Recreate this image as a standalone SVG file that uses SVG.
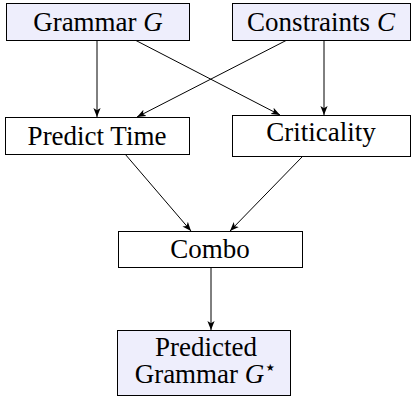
<svg xmlns="http://www.w3.org/2000/svg" width="413" height="401" viewBox="0 0 413 401">
<style>
.box{stroke:#000;stroke-width:1;fill:#fff}
.in{fill:#eeeefc}
text{font-family:"Liberation Serif","Times New Roman",serif;font-size:27px;fill:#000;text-anchor:middle}
.it{font-style:italic}
.c{stroke:#000;stroke-width:1;fill:none;marker-end:url(#ah)}
</style>
<defs>
<marker id="ah" viewBox="0 0 10 10" refX="10" refY="5" markerWidth="9" markerHeight="9" markerUnits="userSpaceOnUse" orient="auto">
<path d="M0,1 L10,5 L0,9 L2.5,5 Z" fill="#000"/>
</marker>
</defs>
<g id="connectors">
<line class="c" x1="97" y1="40" x2="97" y2="117"/>
<line class="c" x1="135" y1="40" x2="280" y2="115"/>
<line class="c" x1="287" y1="40" x2="137" y2="117"/>
<line class="c" x1="324" y1="40" x2="324" y2="115"/>
<line class="c" x1="125" y1="154" x2="191" y2="231"/>
<line class="c" x1="302" y1="157" x2="230" y2="231"/>
<line class="c" x1="211" y1="267" x2="211" y2="330"/>
</g>
<g id="grammar">
<rect class="box in" x="6.5" y="3.5" width="183" height="37"/>
<text x="98" y="31">Grammar <tspan class="it">G</tspan></text>
</g>
<g id="constraints">
<rect class="box in" x="232.5" y="3.5" width="178" height="37"/>
<text x="321" y="31">Constraints <tspan class="it">C</tspan></text>
</g>
<g id="predict">
<rect class="box" x="5.5" y="117.5" width="184" height="37"/>
<text x="97" y="145">Predict Time</text>
</g>
<g id="criticality">
<rect class="box" x="232.5" y="115.5" width="178" height="41"/>
<text x="321" y="141">Criticality</text>
</g>
<g id="combo">
<rect class="box" x="118.5" y="231.5" width="184" height="36"/>
<text x="210" y="258">Combo</text>
</g>
<g id="predicted">
<rect class="box in" x="117.5" y="330.5" width="173" height="65"/>
<text x="206" y="356">Predicted</text>
<text x="206" y="383">Grammar <tspan class="it">G</tspan><tspan font-size="20" dy="-9">⋆</tspan></text>
</g>
</svg>
